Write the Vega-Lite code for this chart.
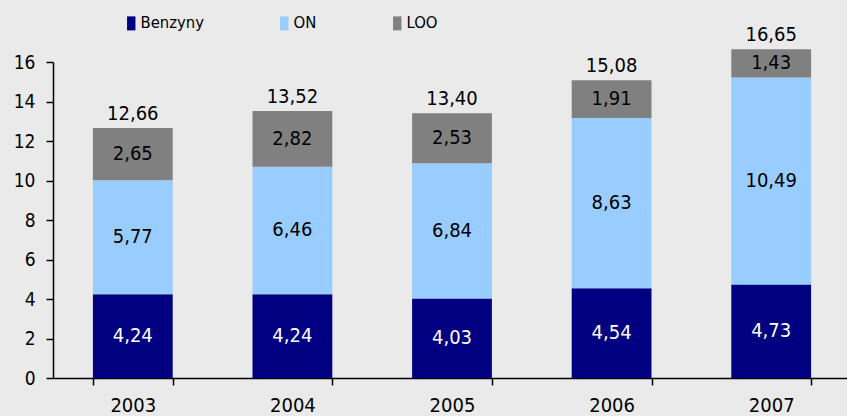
{
  "$schema": "https://vega.github.io/schema/vega-lite/v6.json",
  "width": 798,
  "height": 316,
  "autosize": {"type": "none"},
  "padding": {"left": 53, "top": 62, "right": 0, "bottom": 38},
  "background": "#EAEAEA",
  "config": {
    "view": {"stroke": null},
    "locale": {"number": {"decimal": ",", "thousands": " ", "grouping": [3], "currency": ["", ""]}},
    "font": "DejaVu Sans Condensed"
  },
  "data": {
    "values": [
      {"rok": "2003", "typ": "Benzyny", "k": 1, "wartosc": 4.24},
      {"rok": "2003", "typ": "ON", "k": 2, "wartosc": 5.77},
      {"rok": "2003", "typ": "LOO", "k": 3, "wartosc": 2.65},
      {"rok": "2004", "typ": "Benzyny", "k": 1, "wartosc": 4.24},
      {"rok": "2004", "typ": "ON", "k": 2, "wartosc": 6.46},
      {"rok": "2004", "typ": "LOO", "k": 3, "wartosc": 2.82},
      {"rok": "2005", "typ": "Benzyny", "k": 1, "wartosc": 4.03},
      {"rok": "2005", "typ": "ON", "k": 2, "wartosc": 6.84},
      {"rok": "2005", "typ": "LOO", "k": 3, "wartosc": 2.53},
      {"rok": "2006", "typ": "Benzyny", "k": 1, "wartosc": 4.54},
      {"rok": "2006", "typ": "ON", "k": 2, "wartosc": 8.63},
      {"rok": "2006", "typ": "LOO", "k": 3, "wartosc": 1.91},
      {"rok": "2007", "typ": "Benzyny", "k": 1, "wartosc": 4.73},
      {"rok": "2007", "typ": "ON", "k": 2, "wartosc": 10.49},
      {"rok": "2007", "typ": "LOO", "k": 3, "wartosc": 1.43}
    ]
  },
  "layer": [
    {
      "mark": {"type": "bar"},
      "encoding": {
        "x": {
          "field": "rok", "type": "ordinal",
          "scale": {"paddingInner": 0.5, "paddingOuter": 0.25},
          "axis": {
            "title": null, "labelAngle": 0, "tickBand": "extent",
            "domainColor": "black", "tickColor": "black", "domainWidth": 1.5, "tickWidth": 1.5,
            "tickSize": 7, "labelPadding": 10, "labelFontSize": 20, "labelColor": "black",
            "labelFont": "DejaVu Sans Condensed"
          }
        },
        "y": {
          "field": "wartosc", "type": "quantitative", "stack": "zero",
          "scale": {"domain": [0, 16], "nice": false},
          "axis": {
            "title": null, "values": [0, 2, 4, 6, 8, 10, 12, 14, 16], "grid": false, "labelOverlap": false,
            "domainColor": "black", "tickColor": "black", "domainWidth": 1.5, "tickWidth": 1.5,
            "tickSize": 7, "labelPadding": 11, "labelFontSize": 19, "labelColor": "black",
            "labelFont": "DejaVu Sans Condensed"
          }
        },
        "color": {
          "field": "typ", "type": "nominal",
          "scale": {"domain": ["Benzyny", "ON", "LOO"], "range": ["#000080", "#99CCFF", "#808080"]},
          "legend": {
            "title": null, "orient": "none", "legendX": 70, "legendY": -47, "direction": "horizontal",
            "symbolType": "M-0.6,-1H0.6V1H-0.6Z", "symbolSize": 196, "symbolStrokeWidth": 0,
            "symbolOpacity": 1, "labelFontSize": 16.5, "labelFont": "DejaVu Sans Condensed",
            "labelColor": "black", "columnPadding": 72, "labelOffset": 1, "padding": 0
          }
        },
        "order": {"field": "k", "type": "quantitative"}
      }
    },
    {
      "mark": {"type": "text", "fontSize": 20, "font": "DejaVu Sans Condensed"},
      "encoding": {
        "x": {"field": "rok", "type": "ordinal"},
        "y": {
          "field": "wartosc", "type": "quantitative", "stack": "zero", "bandPosition": 0.5,
          "axis": {"title": null, "values": [0, 2, 4, 6, 8, 10, 12, 14, 16], "grid": false, "labelOverlap": false}
        },
        "order": {"field": "k", "type": "quantitative"},
        "text": {"field": "wartosc", "type": "quantitative", "format": ".2f"},
        "color": {"condition": {"test": "datum.typ === 'Benzyny'", "value": "white"}, "value": "black"}
      }
    },
    {
      "transform": [{"aggregate": [{"op": "sum", "field": "wartosc", "as": "suma"}], "groupby": ["rok"]}],
      "mark": {"type": "text", "fontSize": 20, "font": "DejaVu Sans Condensed", "baseline": "alphabetic", "dy": -8, "color": "black"},
      "encoding": {
        "x": {"field": "rok", "type": "ordinal"},
        "y": {
          "field": "suma", "type": "quantitative",
          "axis": {"title": null, "values": [0, 2, 4, 6, 8, 10, 12, 14, 16], "grid": false, "labelOverlap": false}
        },
        "text": {"field": "suma", "type": "quantitative", "format": ".2f"}
      }
    }
  ]
}
